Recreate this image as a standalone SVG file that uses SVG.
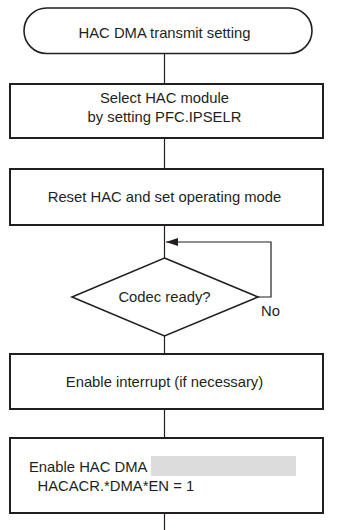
<svg xmlns="http://www.w3.org/2000/svg" width="338" height="530" viewBox="0 0 338 530">
  <style>
    .box { fill: #ffffff; stroke: #231f20; stroke-width: 2; }
    .term { fill: #ffffff; stroke: #231f20; stroke-width: 1.6; }
    .dec { fill: #ffffff; stroke: #231f20; stroke-width: 1.6; }
    .conn { fill: none; stroke: #231f20; stroke-width: 1.2; }
    text { font-family: "Liberation Sans", Arial, sans-serif; font-size: 14.8px; fill: #231f20; }
    .c { text-anchor: middle; }
  </style>
  <defs>
    <marker id="arrow" markerWidth="12" markerHeight="8" refX="12" refY="4" orient="auto" markerUnits="userSpaceOnUse">
      <path d="M0,0 L12,4 L0,8 Z" fill="#231f20"/>
    </marker>
  </defs>

  <g id="connectors">
    <line class="conn" x1="164.5" y1="54" x2="164.5" y2="84"/>
    <line class="conn" x1="164.5" y1="138" x2="164.5" y2="169"/>
    <line class="conn" x1="164.5" y1="225" x2="164.5" y2="258"/>
    <polyline class="conn" points="258,297 271,297 271,242 166,242" marker-end="url(#arrow)"/>
    <line class="conn" x1="164.5" y1="336" x2="164.5" y2="354"/>
    <line class="conn" x1="164.5" y1="409" x2="164.5" y2="438"/>
    <line class="conn" x1="164.5" y1="513" x2="164.5" y2="530"/>
    <text x="261" y="316">No</text>
  </g>

  <g id="start">
    <rect class="term" x="24" y="8" width="288" height="45.5" rx="22.75" ry="22.75"/>
    <text class="c" x="164.5" y="38">HAC DMA transmit setting</text>
  </g>

  <g id="select-module">
    <rect class="box" x="10" y="84" width="313" height="54"/>
    <text class="c" x="164.5" y="103">Select HAC module</text>
    <text class="c" x="164.5" y="122">by setting PFC.IPSELR</text>
  </g>

  <g id="reset-hac">
    <rect class="box" x="10" y="169" width="313" height="56"/>
    <text class="c" x="164.5" y="202">Reset HAC and set operating mode</text>
  </g>

  <g id="codec-ready">
    <polygon class="dec" points="164.5,258 258,297 164.5,336 72,297"/>
    <text class="c" x="164.5" y="302">Codec ready?</text>
  </g>

  <g id="enable-interrupt">
    <rect class="box" x="10" y="354" width="313" height="55"/>
    <text class="c" x="164.5" y="387">Enable interrupt (if necessary)</text>
  </g>

  <g id="enable-dma">
    <rect class="box" x="10" y="438" width="313" height="75"/>
    <rect x="151" y="456" width="145" height="20" fill="#dcdcdc"/>
    <text x="29" y="472">Enable HAC DMA</text>
    <text x="37.5" y="491">HACACR.*DMA*EN = 1</text>
  </g>
</svg>
